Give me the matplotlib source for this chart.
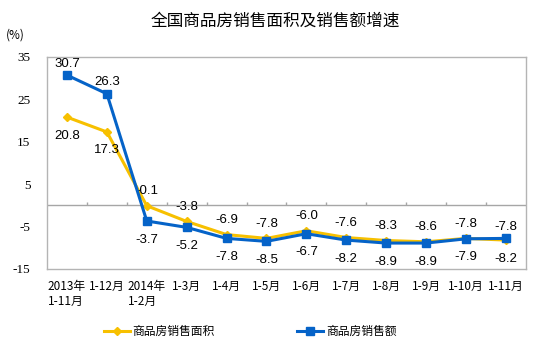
import numpy as np
import matplotlib
matplotlib.use("Agg")
import matplotlib.pyplot as plt

plt.rcParams["font.family"] = ["Liberation Sans", "Noto Sans CJK SC", "DejaVu Sans"]

# data
categories = ["2013年\n1-11月", "1-12月", "2014年\n1-2月", "1-3月", "1-4月", "1-5月",
              "1-6月", "1-7月", "1-8月", "1-9月", "1-10月", "1-11月"]
area_growth = [20.8, 17.3, -0.1, -3.8, -6.9, -7.8, -6.0, -7.6, -8.3, -8.6, -7.8, -8.2]
sales_growth = [30.7, 26.3, -3.7, -5.2, -7.8, -8.5, -6.7, -8.2, -8.9, -8.9, -7.9, -7.8]
area_label_above = [False, False, True, True, True, True, True, True, True, True, True, False]
yticks = [-15, -5, 5, 15, 25, 35]

yellow = "#F7C000"
blue = "#0563C8"

fig = plt.figure(figsize=(5.5, 3.47), dpi=100)
ax = fig.add_axes([0.0855, 0.225, 0.8705, 0.611])

x = np.arange(len(categories))
ax.plot(x, area_growth, color=yellow, lw=2.2, marker="D", ms=4.5, zorder=3,
        label="商品房销售面积")
ax.plot(x, sales_growth, color=blue, lw=2.2, marker="s", ms=5.5, zorder=4,
        label="商品房销售额")

for i in x:
    up = area_label_above[i]
    ax.annotate(f"{area_growth[i]:.1f}", (i, area_growth[i]),
                xytext=(0, 6 if up else -9), textcoords="offset points",
                ha="center", va="bottom" if up else "top", fontsize=9.5)
    ax.annotate(f"{sales_growth[i]:.1f}", (i, sales_growth[i]),
                xytext=(0, -9 if up else 4), textcoords="offset points",
                ha="center", va="top" if up else "bottom", fontsize=9.5)

ax.set_xlim(-0.5, len(categories) - 0.5)
ax.set_ylim(-15, 35)
ax.set_yticks(yticks)
ax.set_yticklabels([str(t) for t in yticks], fontsize=9.5,
                   family=["Liberation Serif", "DejaVu Serif"])
ax.tick_params(axis="y", length=0, pad=12)

ax.set_xticks(x)
ax.set_xticklabels(categories, fontsize=8.5, multialignment="left",
                   family=["Noto Sans CJK SC", "DejaVu Sans"])
ax.tick_params(axis="x", length=0, pad=8)

# zero line with small ticks at category boundaries
ax.axhline(0, color="#A6A6A6", lw=1, zorder=1)
ax.vlines(np.arange(0.5, len(categories) - 1, 1), 0, 0.9, color="#A6A6A6", lw=1, zorder=1)

for s in ax.spines.values():
    s.set_color("#B4B4B4")
    s.set_linewidth(1)

fig.text(0.5, 0.94, "全国商品房销售面积及销售额增速", ha="center", va="center",
         fontsize=12, family=["Noto Sans CJK SC", "DejaVu Sans"])
fig.text(0.01, 0.9, "(%)", ha="left", va="center", fontsize=8.5,
         family=["Noto Sans CJK SC", "DejaVu Sans"])

fig.legend(loc="center", bbox_to_anchor=(0.455, 0.045), ncol=2, frameon=False,
           columnspacing=7, handlelength=2.2, handletextpad=0.2,
           prop={"family": ["Noto Sans CJK SC", "DejaVu Sans"], "size": 8.5})

fig.savefig("out.png", dpi=100)
